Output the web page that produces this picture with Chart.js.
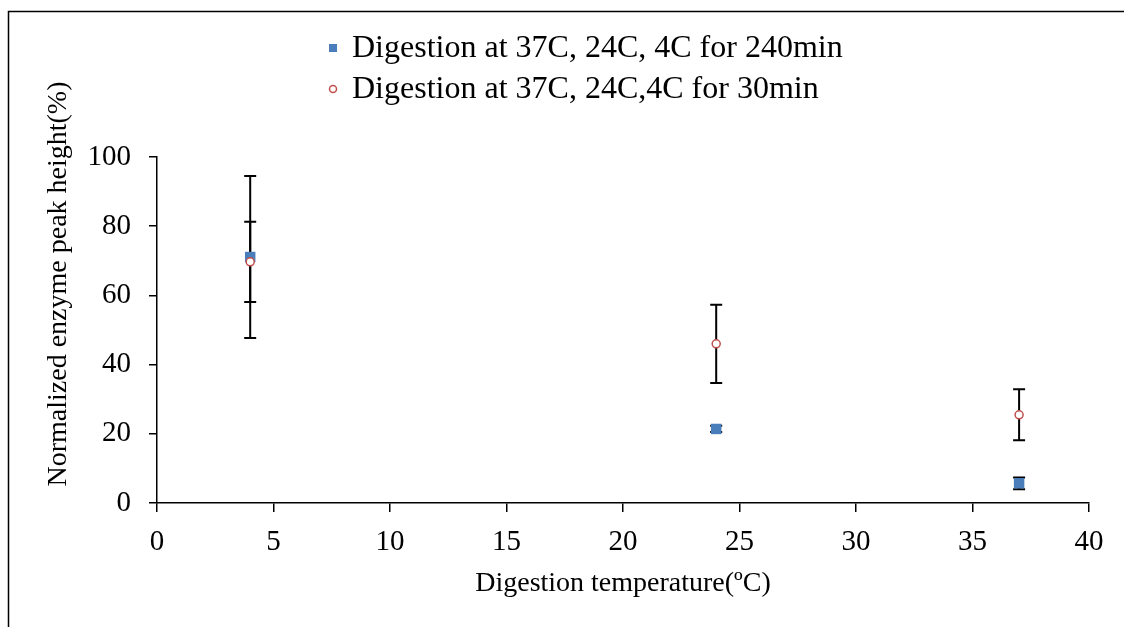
<!DOCTYPE html>
<html lang="en">
<head>
<meta charset="UTF-8">
<title>Enzyme peak height vs digestion temperature</title>
<script src="https://cdn.jsdelivr.net/npm/chart.js"></script>
<style>
  body { margin: 0; background: #fff; }
  canvas { display: block; }
</style>
</head>
<body>
<canvas id="chart" width="1124" height="627"></canvas>
<script>
// digestion temperatures (ºC)
const temperatures = [4, 24, 37];
// 240 min digestion
const long_values = [71.1, 21.4, 5.7];
const long_errors = [23.4, 0.9, 1.7];
// 30 min digestion
const short_values = [69.7, 46.0, 25.5];
const short_errors = [11.6, 11.3, 7.4];
const series_labels = ['Digestion at 37C, 24C, 4C for 240min', 'Digestion at 37C, 24C,4C for 30min'];
const y_title = 'Normalized enzyme peak height(%)';

const FONT = "'Liberation Serif', 'Times New Roman', serif";
const BLUE = '#4a7ebb';
const RED = '#c0504d';

function points(vals) {
    return temperatures.map((t, i) => ({ x: t, y: vals[i] }));
}

// frame round the picture + white background
const frame = {
    id: 'frame',
    beforeDraw(chart) {
        const ctx = chart.ctx;
        ctx.save();
        ctx.fillStyle = '#fff';
        ctx.fillRect(0, 0, chart.width, chart.height);
        ctx.strokeStyle = '#000';
        ctx.lineWidth = 1.5;
        ctx.beginPath();
        ctx.moveTo(8.5, chart.height + 2);
        ctx.lineTo(8.5, 11.5);
        ctx.lineTo(chart.width + 2, 11.5);
        ctx.stroke();
        ctx.restore();
    }
};

// vertical error bars with caps, drawn under the markers
const errorBars = {
    id: 'errorBars',
    beforeDatasetsDraw(chart) {
        const { ctx, scales: { x, y } } = chart;
        ctx.save();
        ctx.strokeStyle = '#000';
        ctx.lineWidth = 2;
        chart.data.datasets.forEach(ds => {
            ds.data.forEach((pt, i) => {
                const err = ds.errors[i];
                const px = x.getPixelForValue(pt.x);
                const top = y.getPixelForValue(pt.y + err);
                const bot = y.getPixelForValue(pt.y - err);
                ctx.beginPath();
                ctx.moveTo(px, top); ctx.lineTo(px, bot);
                ctx.moveTo(px - 6, top); ctx.lineTo(px + 6, top);
                ctx.moveTo(px - 6, bot); ctx.lineTo(px + 6, bot);
                ctx.stroke();
            });
        });
        ctx.restore();
    }
};

// legend stacked in two rows + the y title, placed as in the reference
const extras = {
    id: 'extras',
    afterDraw(chart) {
        const ctx = chart.ctx;
        const rows = [48, 89];
        ctx.save();
        ctx.font = '32px ' + FONT;
        ctx.textBaseline = 'middle';
        const order = [1, 0];
        order.forEach((di, r) => {
            const ds = chart.data.datasets[di];
            const y = rows[r];
            if (ds.pointStyle === 'rect') {
                ctx.fillStyle = ds.backgroundColor;
                ctx.fillRect(329, y - 4, 8, 8);
            } else {
                ctx.strokeStyle = ds.borderColor;
                ctx.lineWidth = 1.5;
                ctx.beginPath();
                ctx.arc(333, y, 3.5, 0, Math.PI * 2);
                ctx.stroke();
            }
            ctx.fillStyle = '#000';
            ctx.fillText(ds.label, 352, y + 1);
        });

        ctx.font = '28px ' + FONT;
        ctx.textAlign = 'center';
        ctx.translate(59, 284);
        ctx.rotate(-Math.PI / 2);
        ctx.fillText(y_title, 0, 0);
        ctx.restore();
    }
};

new Chart(document.getElementById('chart'), {
    type: 'scatter',
    data: {
        datasets: [
            {
                label: series_labels[1],
                data: points(short_values),
                errors: short_errors,
                pointStyle: 'circle',
                pointRadius: 4,
                borderWidth: 1.5,
                borderColor: RED,
                backgroundColor: '#fff',
                order: 1
            },
            {
                label: series_labels[0],
                data: points(long_values),
                errors: long_errors,
                pointStyle: 'rect',
                pointRadius: 7.4,
                borderWidth: 0,
                borderColor: BLUE,
                backgroundColor: BLUE,
                order: 2
            }
        ]
    },
    options: {
        responsive: false,
        animation: false,
        events: [],
        layout: { padding: { top: 157, right: 35, bottom: 0, left: 0 } },
        plugins: {
            legend: { display: false },
            tooltip: { enabled: false }
        },
        scales: {
            x: {
                type: 'linear',
                min: 0, max: 40,
                afterFit: s => { s.height = 124; },
                ticks: { stepSize: 5, color: '#000', padding: 13, font: { family: FONT, size: 29 } },
                grid: { drawOnChartArea: false, tickLength: 9, color: '#000', lineWidth: 1.5 },
                border: { color: '#000', width: 1.5 },
                title: {
                    display: true,
                    text: 'Digestion temperature(ºC)',
                    color: '#000',
                    font: { family: FONT, size: 28 },
                    padding: { top: 0, bottom: 27 }
                }
            },
            y: {
                min: 0, max: 100,
                afterFit: s => { s.width = 157; },
                ticks: { stepSize: 20, color: '#000', padding: 18, font: { family: FONT, size: 29 } },
                grid: { drawOnChartArea: false, tickLength: 8, color: '#000', lineWidth: 1.5 },
                border: { color: '#000', width: 1.5 }
            }
        }
    },
    plugins: [frame, errorBars, extras]
});
</script>
</body>
</html>
